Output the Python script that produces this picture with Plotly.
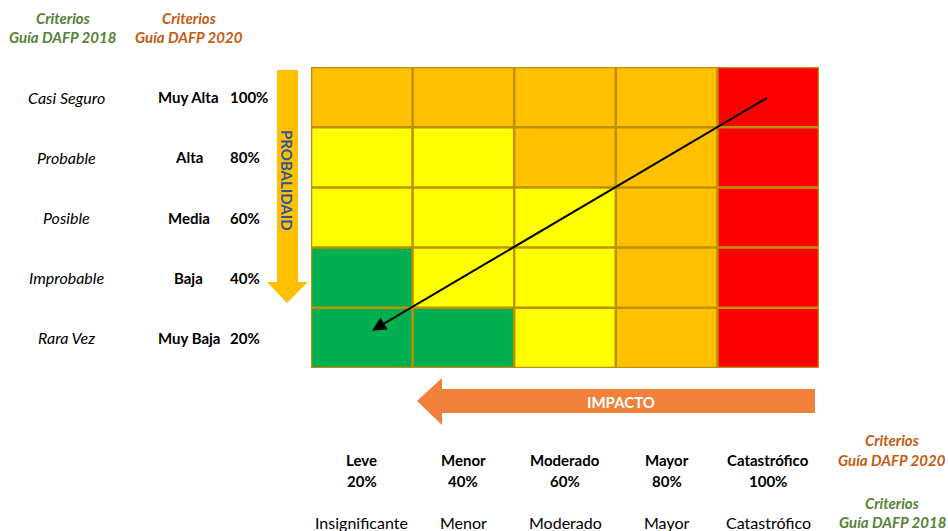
import plotly.graph_objects as go

W, H = 948, 531

# ---- data ----
prob_2018 = ["Rara Vez", "Improbable", "Posible", "Probable", "Casi Seguro"]
prob_2020 = ["Muy Baja", "Baja", "Media", "Alta", "Muy Alta"]
prob_pct = ["20%", "40%", "60%", "80%", "100%"]
imp_2020 = ["Leve", "Menor", "Moderado", "Mayor", "Catastrófico"]
imp_pct = ["20%", "40%", "60%", "80%", "100%"]
imp_2018 = ["Insignificante", "Menor", "Moderado", "Mayor", "Catastrófico"]
# risk level per cell: 0 low(green) 1 moderate(yellow) 2 high(orange) 3 extreme(red)
# rows from Muy Baja (bottom) to Muy Alta (top)
risk = [
    [0, 0, 1, 2, 3],
    [0, 1, 1, 2, 3],
    [1, 1, 1, 2, 3],
    [1, 1, 2, 2, 3],
    [2, 2, 2, 2, 3],
]
trend_from = (4.0, 4.0)
trend_to = (0.1, 0.12)

GREEN, YELLOW, ORANGE, RED = "#00B050", "#FFFF00", "#FFC000", "#FF0000"
BORDER = "#BF9000"

def px(x):
    return x / W

def py(y):
    return 1 - y / H

fig = go.Figure()
fig.add_trace(go.Heatmap(
    z=risk,
    x=list(range(5)), y=list(range(5)),
    zmin=0, zmax=3,
    colorscale=[[0, GREEN], [1/6, GREEN], [1/6, YELLOW], [0.5, YELLOW],
                [0.5, ORANGE], [5/6, ORANGE], [5/6, RED], [1, RED]],
    showscale=False, hoverinfo="skip",
))

shapes = []
for k in range(6):
    shapes.append(dict(type="line", xref="x", yref="y", x0=k - 0.5, x1=k - 0.5,
                       y0=-0.5, y1=4.5, line=dict(color=BORDER, width=2.5)))
    shapes.append(dict(type="line", xref="x", yref="y", y0=k - 0.5, y1=k - 0.5,
                       x0=-0.5, x1=4.5, line=dict(color=BORDER, width=2.5)))

def path(points):
    s = "M " + " L ".join(f"{px(x):.5f},{py(y):.5f}" for x, y in points) + " Z"
    return s

# Probabilidad arrow (down)
shapes.append(dict(type="path", xref="paper", yref="paper",
                   path=path([(277, 70), (298, 70), (298, 282), (308, 282),
                              (287, 303), (267, 282), (277, 282)]),
                   fillcolor="#FFC000", line=dict(width=0), layer="above"))
# Impacto arrow (left)
shapes.append(dict(type="path", xref="paper", yref="paper",
                   path=path([(815, 389), (442, 389), (442, 378), (417, 401),
                              (442, 425), (442, 413), (815, 413)]),
                   fillcolor="#F1813A", line=dict(width=0), layer="above"))

FONT = "Lato"
BS = 15   # bold size
RS = 16   # regular size
ann = []

def txt(x, y, t, size=BS, color="black", bold=False, italic=False, xanchor="center", angle=0):
    s = t
    if bold:
        s = f"<b>{s}</b>"
    if italic:
        s = f"<i>{s}</i>"
    ann.append(dict(x=px(x), y=py(y), xref="paper", yref="paper", text=s,
                    showarrow=False, xanchor=xanchor, yanchor="middle", textangle=angle,
                    font=dict(family=FONT, size=size, color=color)))

G2018, O2020 = "#548235", "#C55A11"
txt(63, 18, "Criterios", color=G2018, bold=True, italic=True)
txt(63, 37, "Guía DAFP 2018", color=G2018, bold=True, italic=True)
txt(189, 18, "Criterios", color=O2020, bold=True, italic=True)
txt(189, 37, "Guía DAFP 2020", color=O2020, bold=True, italic=True)

for i in range(5):
    ann.append(dict(x=px(66), y=i, xref="paper", yref="y", text=f"<i>{prob_2018[i]}</i>",
                    showarrow=False, xanchor="center", yanchor="middle",
                    font=dict(family=FONT, size=RS, color="black")))
    ann.append(dict(x=px(188.5), y=i, xref="paper", yref="y", text=f"<b>{prob_2020[i]}</b>",
                    showarrow=False, xanchor="center", yanchor="middle",
                    font=dict(family=FONT, size=BS, color="black")))
    ann.append(dict(x=px(228), y=i, xref="paper", yref="y", text=f"<b>{prob_pct[i]}</b>",
                    showarrow=False, xanchor="left", yanchor="middle",
                    font=dict(family=FONT, size=BS, color="black")))
    ann.append(dict(x=i, y=py(460), xref="x", yref="paper", text=f"<b>{imp_2020[i]}</b>",
                    showarrow=False, xanchor="center", yanchor="middle",
                    font=dict(family=FONT, size=BS, color="black")))
    ann.append(dict(x=i, y=py(481), xref="x", yref="paper", text=f"<b>{imp_pct[i]}</b>",
                    showarrow=False, xanchor="center", yanchor="middle",
                    font=dict(family=FONT, size=BS, color="black")))
    ann.append(dict(x=i, y=py(522), xref="x", yref="paper", text=imp_2018[i],
                    showarrow=False, xanchor="center", yanchor="middle",
                    font=dict(family=FONT, size=RS, color="black")))

txt(892, 440, "Criterios", color=O2020, bold=True, italic=True)
txt(892, 460, "Guía DAFP 2020", color=O2020, bold=True, italic=True)
txt(892, 503, "Criterios", color=G2018, bold=True, italic=True)
txt(892, 522, "Guía DAFP 2018", color=G2018, bold=True, italic=True)

txt(287, 180, "PROBALIDAID", color="#2F5597", bold=True, angle=90)
txt(621, 402, "IMPACTO", color="white", bold=True)

ann.append(dict(x=trend_to[0], y=trend_to[1], ax=trend_from[0], ay=trend_from[1],
                xref="x", yref="y", axref="x", ayref="y", text="",
                showarrow=True, arrowhead=2, arrowsize=1.4, arrowwidth=2,
                arrowcolor="black", standoff=0, startstandoff=0))

fig.update_layout(
    width=W, height=H,
    margin=dict(l=0, r=0, t=0, b=0),
    paper_bgcolor="white", plot_bgcolor="white",
    xaxis=dict(domain=[px(311), px(819)], range=[-0.5, 4.5], visible=False, fixedrange=True),
    yaxis=dict(domain=[py(368), py(67)], range=[-0.5, 4.5], visible=False, fixedrange=True),
    shapes=shapes, annotations=ann, showlegend=False,
)

fig.write_html("out.html")
